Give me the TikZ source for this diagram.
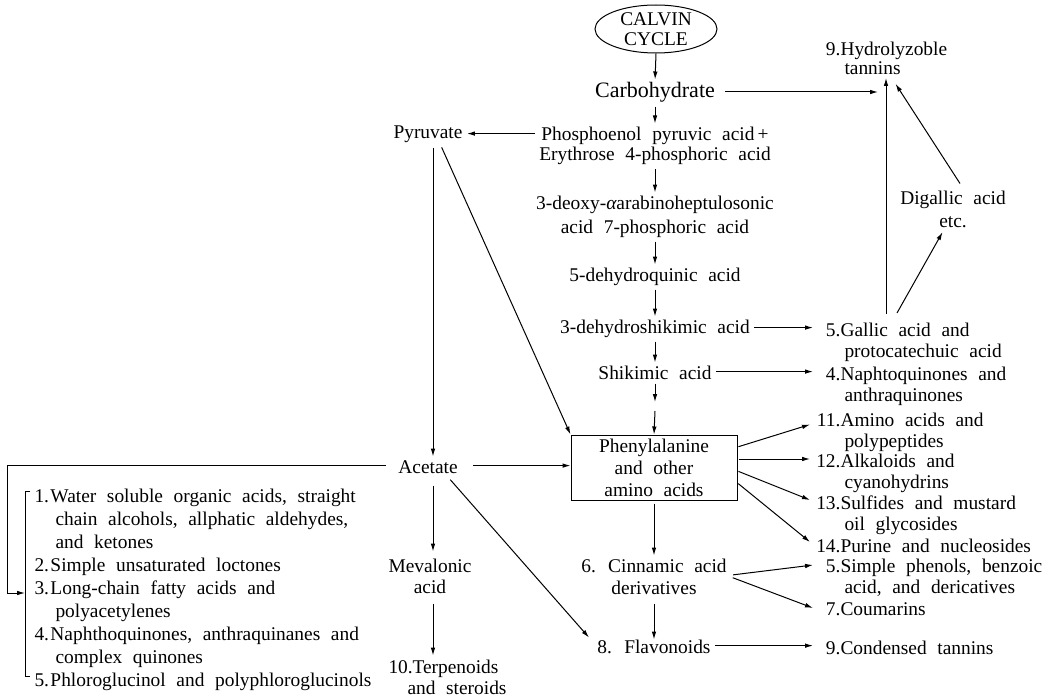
\documentclass[tikz,border=0pt]{standalone}
\usepackage{fontspec}
\setmainfont{Liberation Serif}[WordSpace=2.2]
\usetikzlibrary{arrows.meta,shapes.geometric}
\newcommand\mf{\fontsize{19.4}{21}\selectfont}
\newcommand\ts{\rule{0pt}{15pt}}
\newcommand\nb[1]{\makebox[24pt][r]{#1}}
\newcommand\nl[1]{\makebox[16pt][l]{#1}}
\begin{document}
\begin{tikzpicture}[x=1pt,y=-1pt,line width=1pt,
  every node/.style={font=\mf, inner sep=0pt},
  c/.style={anchor=north, align=center},
  it/.style={anchor=north west, align=left},
  arr/.style={-{Latex[length=8pt,width=4.6pt]}, shorten <=4pt, shorten >=1pt}]
\useasboundingbox (0,0) rectangle (1057,698);

% ---- main column ----
\node[ellipse, draw, minimum width=122pt, minimum height=48pt, align=center,
      font=\fontsize{19.4}{20}\selectfont] (calvin) at (656,29) {CALVIN\\CYCLE};
\node[font=\fontsize{22}{24}\selectfont] (carb) at (655,92) {Carbohydrate};
\node[c, font=\fontsize{19.4}{20.5}\selectfont] (pep) at (655,124.5)
  {\ts Phosphoenol pyruvic acid\,+\\Erythrose 4-phosphoric acid};
\node[c, font=\fontsize{19.4}{24}\selectfont] (deoxy) at (655,193.5)
  {\ts 3-deoxy-{\itshape α}arabinoheptulosonic\\acid 7-phosphoric acid};
\node[c] (dhq) at (655,265.5) {\ts 5-dehydroquinic acid};
\node[c] (dhs) at (655,317.5) {\ts 3-dehydroshikimic acid};
\node[c] (shik) at (655,363.5) {\ts Shikimic acid};
\node[draw, minimum width=166pt, minimum height=65pt, align=center,
      font=\fontsize{19.4}{22}\selectfont] (box) at (654,467.5)
  {\rule{0pt}{17pt}Phenylalanine\\and other\\amino acids\rule[-4pt]{0pt}{4pt}};
\node[c, font=\fontsize{19.4}{22}\selectfont] (cinn) at (654,556.5) {\ts 6. Cinnamic acid\\derivatives};
\node[c] (flav) at (654,637.5) {\ts 8. Flavonoids};

% ---- left column ----
\node[c] (pyr) at (428,123.5) {\ts Pyruvate};
\node[c] (ace) at (428,457.5) {\ts Acetate};
\node[c] (mev) at (430,556.5) {\ts Mevalonic\\acid};
\node[it] (terp) at (388,657.5) {\ts\makebox[24pt][l]{10.}Terpenoids\\\hspace*{19pt}and steroids};

\node[it, font=\fontsize{19.4}{23.1}\selectfont] (lst) at (34,486.5)
  {\ts\nl{1.}Water soluble organic acids, straight\\
   \hspace*{21pt}chain alcohols, allphatic aldehydes,\\
   \hspace*{21pt}and ketones\\
   \nl{2.}Simple unsaturated loctones\\
   \nl{3.}Long-chain fatty acids and\\
   \hspace*{21pt}polyacetylenes\\
   \nl{4.}Naphthoquinones, anthraquinanes and\\
   \hspace*{21pt}complex quinones\\
   \nl{5.}Phloroglucinol and polyphloroglucinols};

% ---- right column ----
\node[it, font=\fontsize{19.4}{19}\selectfont] (hyd) at (816,40.5) {\ts\nb{9.}Hydrolyzoble\\\hspace*{28pt}tannins};
\node[c, font=\fontsize{19.4}{23}\selectfont] (dig) at (953,188.5) {\ts Digallic acid\\etc.};
\node[it] (gallic) at (816,320.5) {\ts\nb{5.}Gallic acid and\\\hspace*{28pt}protocatechuic acid};
\node[it] (naph) at (816,364.5) {\ts\nb{4.}Naphtoquinones and\\\hspace*{28pt}anthraquinones};
\node[it] (amino) at (816,410.5) {\ts\nb{11.}Amino acids and\\\hspace*{28pt}polypeptides};
\node[it] (alk) at (816,451.5) {\ts\nb{12.}Alkaloids and\\\hspace*{28pt}cyanohydrins};
\node[it] (sulf) at (816,493.5) {\ts\nb{13.}Sulfides and mustard\\\hspace*{28pt}oil glycosides};
\node[it] (pur) at (816,536.5) {\ts\nb{14.}Purine and nucleosides};
\node[it] (phen) at (816,556.5) {\ts\nb{5.}Simple phenols, benzoic\\\hspace*{28pt}acid, and dericatives};
\node[it] (cou) at (816,599.5) {\ts\nb{7.}Coumarins};
\node[it] (cond) at (816,638.5) {\ts\nb{9.}Condensed tannins};

% ---- helper coordinates ----
\coordinate (vx) at (433,0);
\coordinate (m1) at (655,403);
\coordinate (m2) at (655,411);
\coordinate (hyV) at (886,78);
\coordinate (hyA) at (879,78);
\coordinate (hyD) at (895,83);
\coordinate (gD) at (897,313);
\coordinate (lx) at (7,593);
\coordinate (lt) at (25,593);

% ---- main column arrows ----
\draw[arr, shorten <=0pt, shorten >=2pt] (calvin.south) -- (carb.north);
\draw[arr] (carb.south) -- (pep.north);
\draw[arr] (pep.south) -- (deoxy.north);
\draw[arr] (deoxy.south) -- (dhq.north);
\draw[arr] (dhq.south) -- (dhs.north);
\draw[arr] (dhs.south) -- (shik.north);
\draw[arr] (shik.south) -- (m1);
\draw[arr, shorten <=0pt, shorten >=0pt] (m2) -- (box.north);
\draw[arr, shorten <=3pt, shorten >=1pt] (box.south) -- (cinn.north);
\draw[arr, shorten <=9pt, shorten >=-2pt] (cinn.south) -- (flav.north);

% ---- right arrows ----
\draw[arr, shorten <=10pt] (carb.east) -- (carb.east -| hyA);
\draw[arr, shorten <=7pt, shorten >=0pt] (gallic.north -| hyV) -- (hyV);
\draw[arr, shorten <=0pt] ([xshift=7pt,yshift=5pt]dig.north) -- (hyD);
\draw[arr, shorten <=0pt, shorten >=5pt] (gD) -- ([xshift=-8pt]dig.south);
\draw[arr, shorten >=3pt] (dhs.east) -- (dhs.east -| gallic.west);
\draw[arr, shorten >=3pt] (shik.east) -- (shik.east -| naph.west);
\draw[arr, shorten <=1pt, shorten >=0pt] ([yshift=20.5pt]box.east) -- ([xshift=-6pt,yshift=-14pt]amino.north west);
\draw[arr, shorten <=1pt, shorten >=6pt] ([yshift=8.5pt]box.east) -- ([yshift=8.5pt]box.east -| alk.west);
\draw[arr, shorten <=1pt, shorten >=0pt] ([yshift=-3.5pt]box.east) -- ([xshift=-6pt,yshift=-6.5pt]sulf.north west);
\draw[arr, shorten <=1pt, shorten >=0pt] ([yshift=-15.5pt]box.east) -- ([xshift=-6pt,yshift=-5.5pt]pur.north west);
\draw[arr, shorten <=6pt, shorten >=0pt] (cinn.east) -- ([xshift=-3pt,yshift=-8.5pt]phen.north west);
\draw[arr, shorten <=6pt, shorten >=0pt] (cinn.east) -- ([xshift=-3pt,yshift=-8.5pt]cou.north west);
\draw[arr, shorten >=3pt] (flav.east) -- (flav.east -| cond.west);

% ---- left arrows ----
\draw[arr, shorten >=4pt] (pyr.east -| pep.west) -- (pyr.east);
\draw[arr, shorten >=1pt] (pyr.south -| vx) -- (ace.north -| vx);
\draw[arr, shorten >=0pt] ([xshift=12pt]pyr.south) -- (box.north west);
\draw[arr, shorten <=15pt, shorten >=0pt] (ace.east) -- (ace.east -| box.west);
\draw[arr, shorten <=12pt, shorten >=0pt] (ace.west) -| (lx) -- (lt);
\draw[arr, shorten <=12pt, shorten >=5pt] (ace.south -| vx) -- (mev.north -| vx);
\draw[arr, shorten <=10pt, shorten >=2pt] (mev.south -| vx) -- (terp.north -| vx);
\draw[arr, shorten <=8pt, shorten >=0pt] ([xshift=17pt]ace.south) -- ([xshift=-8pt]flav.north west);

% ---- bracket ----
\draw (30,491) -- (25,491) -- (25,676) -- (30,676);
\end{tikzpicture}
\end{document}
